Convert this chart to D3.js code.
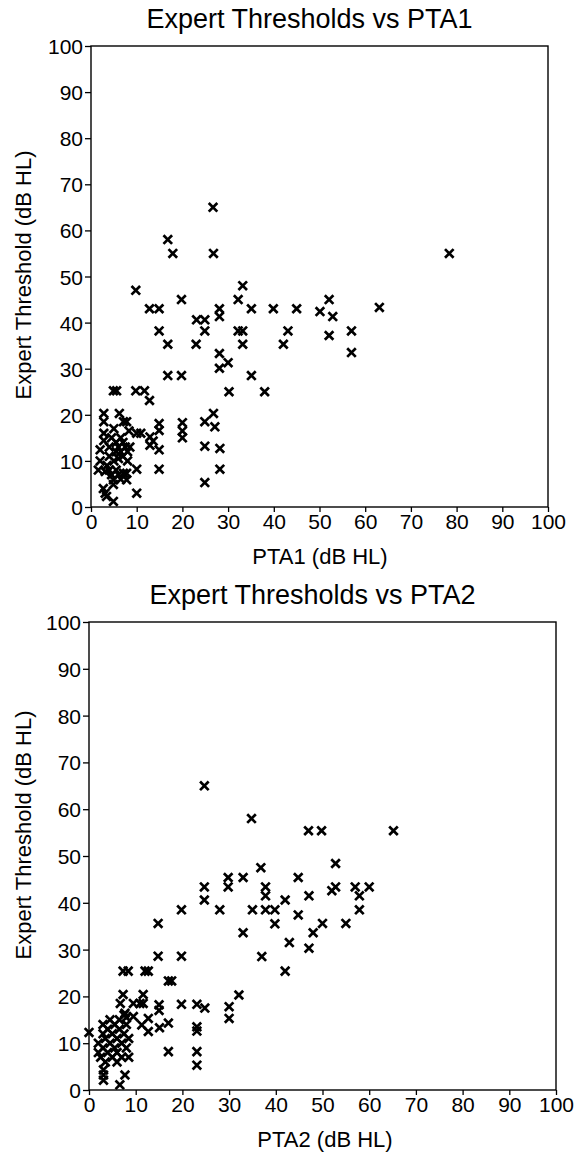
<!DOCTYPE html>
<html>
<head>
<meta charset="utf-8">
<script src="https://cdn.jsdelivr.net/npm/d3@7"></script>
<style>
  body { margin: 0; background: #fff; }
  svg { display: block; font-family: "Liberation Sans", Arial, sans-serif; }
  .tick text { font-size: 21px; fill: #000; }
  .title { font-size: 27px; }
  .axis-title { font-size: 22px; }
</style>
</head>
<body>
<div id="chart"></div>
<script>
// axis ticks (dB HL)
const tickValues = [0, 10, 20, 30, 40, 50, 60, 70, 80, 90, 100];

// titles
const titles = ["Expert Thresholds vs PTA1", "Expert Thresholds vs PTA2"];
const xTitles = ["PTA1 (dB HL)", "PTA2 (dB HL)"];
const yTitle = "Expert Threshold (dB HL)";

// [PTA1, expert threshold]
const pta1Points = [
  [26.7,65],[16.8,58],[17.9,55],[26.8,55],[78.4,55],[9.8,47],[33.2,48],[19.8,45],[32.2,45],[52.1,45],
  [12.8,43],[14.9,43],[28.1,43],[35.1,43],[39.9,43],[45,43],[50.1,42.4],[63.1,43.3],[28.1,41.3],[52.9,41.3],
  [23.1,40.6],[24.9,40.6],[24.9,38.2],[14.9,38.2],[32.2,38.2],[33.2,38.2],[43.1,38.2],[52.1,37.2],[57,38.2],
  [16.8,35.3],[23,35.3],[33.2,35.3],[42.1,35.3],[28.1,33.3],[57,33.5],[30,31.3],[28.1,30.1],
  [16.8,28.5],[19.8,28.5],[35.1,28.5],[30.2,25],[38,25],[4.9,25.2],[5.6,25.2],[9.8,25.2],[11.7,25.2],
  [12.8,23.1],[2.8,20.3],[6.2,20.3],[26.8,20.3],[2.8,18.5],[7.1,18.5],[7.8,18.5],[14.9,18.1],[14.9,16.6],
  [20,18.3],[20,16.5],[20,15],[24.9,18.5],[27.1,17.4],[14.9,12.4],[14.9,8.2],[24.9,13.2],[28.2,12.7],
  [28.2,8.2],[24.9,5.3],[10,3],[10,8.2],[10,16],[10.9,16],[12.9,15.2],[12.9,13.4],[13.6,14.3],
  [2,12.4],[2,10],[1.6,8],[3.1,7.7],[2.7,4],[3.1,3],[3.4,2.3],[4.9,1.2],[2.8,16],[2.8,14.4],
  [4,13],[4,11],[4.5,15],[5,17],[5.5,14],[5.5,12],[6,13],[6,10.5],[6.5,15],[6.5,12],[7,14],[7,11],
  [7.5,13],[4.9,5.9],[4.9,4.9],[7.1,7.3],[7.8,7.3],[7.8,5.9],[4,8],[4.5,7],[5.5,8],[6,7],[6.5,6],
  [5,10],[3.5,9],[8,12],[8,10],[8.5,13],[8.3,16.5]
];

// [PTA2, expert threshold]
const pta2Points = [
  [24.7,65],[34.8,58],[47,55.4],[49.8,55.4],[65.2,55.4],[36.8,47.5],[52.8,48.4],[29.8,45.4],[33,45.4],[44.8,45.4],
  [29.8,43.4],[24.7,43.4],[24.7,40.6],[37.8,43.4],[37.8,41.5],[19.8,38.5],[28,38.5],[35,38.5],[37.8,38.5],[39.8,38.5],
  [42,40.6],[47.1,41.5],[52,42.6],[52.8,43.4],[57,43.4],[60,43.4],[57.9,41.5],[57.9,38.5],[44.8,37.4],[39.8,35.5],
  [14.8,35.6],[33,33.6],[48,33.6],[50,35.6],[55,35.6],[42.9,31.5],[47.1,30.3],[37,28.5],[42,25.4],[14.8,28.6],
  [19.8,28.6],[7.3,25.4],[8.4,25.4],[12,25.4],[12.7,25.4],[17,23.3],[17.7,23.3],[32.1,20.3],[30,17.8],[30,15.3],
  [19.8,18.3],[23.1,18.3],[24.8,17.5],[15,18.2],[15,17],[17,14.3],[15.1,13.3],[23.1,13.5],[23.1,12.6],[17,8.2],
  [23.1,8.2],[23.1,5.3],[7.7,3.2],[0,12.3],[7.3,20.4],[11.6,20.4],[6.7,18.5],[9.5,18.5],[10.9,18.5],[11.6,18.5],
  [7.7,16.4],[9.5,15.7],[12.7,15.3],[11.3,13.9],[12.7,12.5],[3.1,4.3],[3.1,2.1],[3.1,3.2],[6.6,1.1],
  [2,8],[2,10],[2.5,7],[3,9],[3,12],[3,14],[3.5,11],[4,8],[4,13],[4.5,10],[4.5,15],[5,7],[5,12],
  [5.5,9],[5.5,14],[6,8],[6,11],[6.5,13],[6.5,15],[7,7],[7,10],[7.5,12],[8,9],[8,14],[8.5,11],
  [8.5,7],[3.5,6],[6,6],[7.5,16],[8,15.5]
];

const W = 580, H = 1154;
const svg = d3.select("#chart").append("svg")
  .attr("width", W).attr("height", H)
  .attr("viewBox", `0 0 ${W} ${H}`);

// panel boxes in page pixels
const panels = [
  { data: pta1Points, left: 91, right: 548, top: 46, bottom: 507, yLabelY: 275, xLabelX: 320 },
  { data: pta2Points, left: 89, right: 556, top: 622, bottom: 1090, yLabelY: 835, xLabelX: 325 }
];

const cross = "M-4.3,-4.3L4.3,4.3M-4.3,4.3L4.3,-4.3";

panels.forEach(function(p, i) {
  const x = d3.scaleLinear().domain([0, 100]).range([p.left, p.right]);
  const y = d3.scaleLinear().domain([0, 100]).range([p.bottom, p.top]);

  const g = svg.append("g");

  // frame
  g.append("rect")
    .attr("x", p.left).attr("y", p.top)
    .attr("width", p.right - p.left).attr("height", p.bottom - p.top)
    .attr("fill", "none").attr("stroke", "#000").attr("stroke-width", 1.4);

  const xAxis = d3.axisBottom(x).tickValues(tickValues).tickSize(5).tickPadding(2);
  const yAxis = d3.axisLeft(y).tickValues(tickValues).tickSize(6).tickPadding(2);

  g.append("g")
    .attr("transform", "translate(0," + p.bottom + ")")
    .call(xAxis)
    .call(a => a.select(".domain").remove())
    .call(a => a.selectAll(".tick line").attr("stroke", "#000").attr("stroke-width", 1.3));

  g.append("g")
    .attr("transform", "translate(" + p.left + ",0)")
    .call(yAxis)
    .call(a => a.select(".domain").remove())
    .call(a => a.selectAll(".tick line").attr("stroke", "#000").attr("stroke-width", 1.3))
    .call(a => a.selectAll(".tick text").attr("dy", "0.36em"));

  // markers
  g.append("g").selectAll("path")
    .data(p.data).enter()
    .append("path")
      .attr("d", cross)
      .attr("transform", d => "translate(" + x(d[0]) + "," + y(d[1]) + ")")
      .attr("fill", "none")
      .attr("stroke", "#000")
      .attr("stroke-width", 2.7);

  // titles
  g.append("text")
    .attr("class", "title")
    .attr("x", (p.left + p.right) / 2 - 10)
    .attr("y", p.top - 18)
    .attr("text-anchor", "middle")
    .text(titles[i]);

  g.append("text")
    .attr("class", "axis-title")
    .attr("x", p.xLabelX)
    .attr("y", p.bottom + 57)
    .attr("text-anchor", "middle")
    .text(xTitles[i]);

  g.append("text")
    .attr("class", "axis-title")
    .attr("transform", "translate(31," + p.yLabelY + ") rotate(-90)")
    .attr("text-anchor", "middle")
    .text(yTitle);
});
</script>
</body>
</html>
